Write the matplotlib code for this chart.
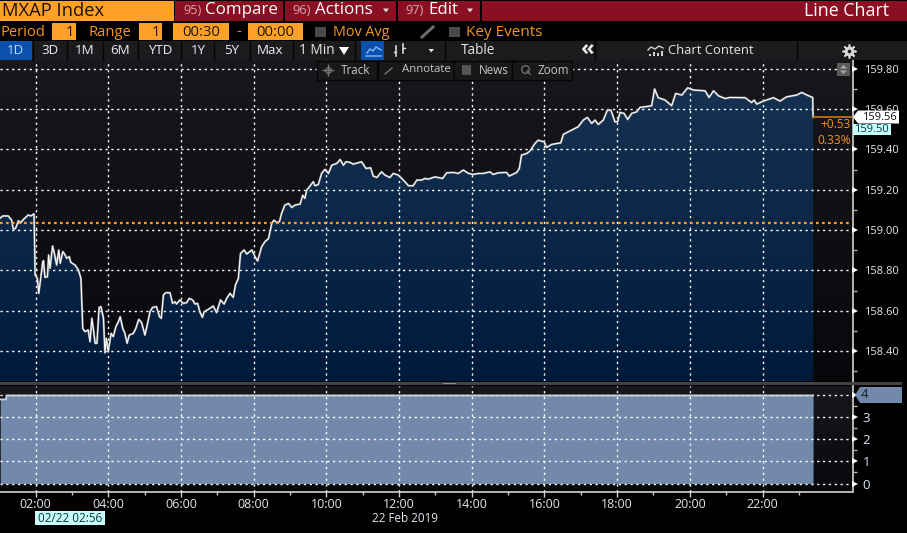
import numpy as np
import matplotlib
matplotlib.use("Agg")
import matplotlib.pyplot as plt
from matplotlib.patches import Rectangle, Polygon
from matplotlib.transforms import blended_transform_factory

plt.rcParams['font.family'] = ['Open Sans', 'DejaVu Sans']

# intraday index values (hours since midnight, index level)
hours = [
    1.02, 1.10, 1.25, 1.34, 1.39, 1.45, 1.53, 1.59, 1.67, 1.80, 1.87, 1.96, 1.99, 2.05, 2.09, 2.20,
    2.22, 2.26, 2.33, 2.36, 2.40, 2.47, 2.52, 2.58, 2.64, 2.68, 2.75, 2.79, 2.86, 2.93, 2.97, 3.09,
    3.18, 3.25, 3.30, 3.36, 3.45, 3.50, 3.55, 3.59, 3.64, 3.69, 3.75, 3.80, 3.87, 3.91, 3.95, 4.00,
    4.08, 4.14, 4.21, 4.28, 4.33, 4.40, 4.46, 4.52, 4.58, 4.69, 4.76, 4.84, 4.92, 5.01, 5.08, 5.15,
    5.22, 5.33, 5.41, 5.46, 5.52, 5.58, 5.70, 5.77, 5.84, 5.88, 5.97, 6.07, 6.16, 6.23, 6.32, 6.39,
    6.46, 6.52, 6.59, 6.64, 6.75, 6.89, 6.98, 7.09, 7.19, 7.26, 7.35, 7.44, 7.50, 7.58, 7.64, 7.74,
    7.81, 7.95, 8.04, 8.11, 8.22, 8.31, 8.41, 8.50, 8.56, 8.63, 8.71, 8.77, 8.86, 8.96, 9.05, 9.14,
    9.28, 9.35, 9.41, 9.46, 9.55, 9.64, 9.69, 9.78, 9.87, 9.96, 10.06, 10.15, 10.29, 10.38, 10.47,
    10.54, 10.65, 10.74, 10.88, 10.97, 11.09, 11.22, 11.29, 11.39, 11.52, 11.61, 11.75, 11.84, 11.98,
    12.12, 12.26, 12.39, 12.49, 12.62, 12.71, 12.81, 12.99, 13.20, 13.31, 13.49, 13.63, 13.77, 13.91,
    14.04, 14.18, 14.32, 14.50, 14.59, 14.73, 14.96, 15.03, 15.24, 15.31, 15.37, 15.51, 15.60, 15.74,
    15.83, 15.99, 16.06, 16.20, 16.45, 16.52, 16.75, 16.93, 17.07, 17.18, 17.30, 17.39, 17.48, 17.62,
    17.73, 17.83, 17.94, 18.01, 18.08, 18.19, 18.29, 18.40, 18.54, 18.63, 18.77, 18.95, 19.03, 19.13,
    19.32, 19.50, 19.61, 19.78, 19.94, 20.10, 20.42, 20.53, 20.65, 20.79, 20.97, 21.11, 21.52, 21.70,
    21.77, 21.84, 22.02, 22.30, 22.48, 22.66, 22.94, 23.08, 23.22, 23.38, 23.39,
]
prices = [
    159.058, 159.070, 159.070, 159.050, 159.005, 159.008, 159.046, 159.036, 159.053, 159.075, 159.070,
    159.080, 158.777, 158.760, 158.686, 158.843, 158.848, 158.765, 158.769, 158.876, 158.810, 158.921,
    158.884, 158.826, 158.901, 158.835, 158.893, 158.884, 158.860, 158.868, 158.840, 158.826, 158.802,
    158.760, 158.512, 158.496, 158.504, 158.446, 158.562, 158.512, 158.438, 158.438, 158.616, 158.620,
    158.562, 158.391, 158.463, 158.396, 158.487, 158.471, 158.520, 158.545, 158.570, 158.512, 158.487,
    158.438, 158.479, 158.487, 158.512, 158.557, 158.540, 158.479, 158.534, 158.595, 158.616, 158.620,
    158.570, 158.562, 158.678, 158.689, 158.689, 158.636, 158.644, 158.633, 158.653, 158.636, 158.640,
    158.661, 158.653, 158.633, 158.636, 158.595, 158.567, 158.595, 158.606, 158.623, 158.590, 158.653,
    158.633, 158.661, 158.686, 158.666, 158.727, 158.760, 158.884, 158.901, 158.881, 158.901, 158.868,
    158.846, 158.917, 158.942, 158.958, 159.033, 159.049, 159.038, 159.041, 159.083, 159.124, 159.132,
    159.112, 159.124, 159.129, 159.173, 159.157, 159.198, 159.218, 159.240, 159.220, 159.226, 159.281,
    159.301, 159.281, 159.322, 159.331, 159.350, 159.322, 159.339, 159.336, 159.327, 159.334, 159.339,
    159.306, 159.309, 159.268, 159.261, 159.289, 159.273, 159.261, 159.281, 159.273, 159.248, 159.220,
    159.220, 159.248, 159.248, 159.256, 159.253, 159.264, 159.256, 159.284, 159.286, 159.281, 159.298,
    159.281, 159.276, 159.281, 159.281, 159.289, 159.276, 159.284, 159.286, 159.268, 159.286, 159.306,
    159.372, 159.380, 159.392, 159.430, 159.446, 159.438, 159.410, 159.425, 159.433, 159.475, 159.496,
    159.513, 159.546, 159.559, 159.529, 159.546, 159.524, 159.546, 159.595, 159.595, 159.537, 159.537,
    159.584, 159.579, 159.549, 159.579, 159.587, 159.609, 159.612, 159.617, 159.700, 159.657, 159.645,
    159.617, 159.678, 159.670, 159.706, 159.695, 159.691, 159.658, 159.691, 159.666, 159.653, 159.658,
    159.657, 159.633, 159.645, 159.625, 159.640, 159.657, 159.640, 159.661, 159.670, 159.683, 159.670,
    159.658, 159.560,
]
prev_close = 159.035
last_price = 159.56

# lower panel, step series
count_hours = [1.03, 1.19, 1.20, 23.39]
count_values = [3.82, 3.82, 4, 4]

price_ticks = [158.40, 158.60, 158.80, 159.00, 159.20, 159.40, 159.60, 159.80]
price_minor = [158.30, 158.50, 158.70, 158.90, 159.10, 159.30, 159.50, 159.70]
count_ticks = [0, 1, 2, 3, 4]
count_minor = [0.5, 1.5, 2.5, 3.5]
hour_ticks = [2, 4, 6, 8, 10, 12, 14, 16, 18, 20, 22]
hour_minor = [3, 5, 7, 9, 11, 13, 15, 17, 19, 21, 23]
hour_labels = ['02:00', '04:00', '06:00', '08:00', '10:00', '12:00', '14:00', '16:00', '18:00', '20:00', '22:00']

W, H = 907, 533
ORANGE = '#ffa028'
TXT_ORANGE = '#f5931e'
RED = '#8a0f23'
BTN = '#1b1b1e'
LABEL = '#e8e8e8'
CYAN = '#c6fdfd'
SLATE = '#7289ab'
GRID = (1, 1, 1, 0.27)
DOTS = (0, (1.6, 2.6))
X0, X1 = 1.0234, 24.48


def px_axes(left, top, right, bottom):
    return fig.add_axes([left / W, 1 - bottom / H, (right - left) / W, (bottom - top) / H])


def dark_bg(ax, top, bottom):
    ax.set_facecolor(bottom)
    shade = np.linspace(0, 1, 64).reshape(-1, 1)
    c0, c1 = np.array(matplotlib.colors.to_rgb(top)), np.array(matplotlib.colors.to_rgb(bottom))
    ax.imshow(c0 + (c1 - c0) * shade[:, :, None], extent=[0, 1, 0, 1], transform=ax.transAxes,
              aspect='auto', zorder=0)


def right_ticks(ax, major, minor):
    ax.set_yticks(major)
    ax.set_yticks(minor, minor=True)
    ax.yaxis.tick_right()
    ax.tick_params(axis='y', which='major', length=0, pad=8, labelsize=8, labelcolor=LABEL)
    ax.tick_params(axis='y', which='minor', length=3, width=1, color='#b0b0b0', right=True)
    tr = blended_transform_factory(ax.transAxes, ax.transData)
    ax.plot([1.003] * len(major), major, ls='none', marker='>', ms=5, color='white', mew=0,
            transform=tr, clip_on=False, zorder=6)
    ax.spines['right'].set_color('#b4b4b4')
    ax.spines['right'].set_linewidth(1.4)
    for s in ('top', 'left', 'bottom'):
        ax.spines[s].set_visible(False)


fig = plt.figure(figsize=(W / 100, H / 100), dpi=100, facecolor='black')

# price panel
ax = px_axes(0, 60, 852.7, 381)
dark_bg(ax, '#17171c', '#08080c')
ax.set_xlim(X0, X1)
ax.set_ylim(158.251, 159.844)
shape = ax.fill_between(hours, prices, 158.251, color='none')
fade = np.linspace(0, 1, 128).reshape(-1, 1)
c_top, c_bot = np.array([0x17, 0x34, 0x54]) / 255, np.array([0x00, 0x1a, 0x3c]) / 255
img = ax.imshow(c_top + (c_bot - c_top) * fade[:, :, None], extent=[X0, X1, 158.251, 159.844],
                aspect='auto', zorder=1)
img.set_clip_path(shape.get_paths()[0], transform=ax.transData)
ax.set_xlim(X0, X1)
ax.set_ylim(158.251, 159.844)
ax.set_xticks(hour_ticks)
ax.tick_params(axis='x', length=0, labelbottom=False)
ax.grid(True, color=GRID, ls=DOTS, lw=1)
ax.set_axisbelow(False)
for g in ax.get_xgridlines() + ax.get_ygridlines():
    g.set_zorder(2)
ax.plot(hours, prices, color='#8c8f94', lw=1.5, zorder=3, solid_joinstyle='round')
ax.plot(hours, prices, color='white', lw=0.75, zorder=4)
ax.axhline(prev_close, color=ORANGE, lw=1.6, ls=(0, (1.2, 1.5)), zorder=5)
ax.plot([hours[-1], X1], [last_price, last_price], color='#c67a17', lw=1.2, zorder=5)
right_ticks(ax, price_ticks, price_minor)
ax.set_yticklabels([f'{v:.2f}' for v in price_ticks])

# lower panel, grid stays behind the filled area
ax2 = px_axes(0, 386, 852.7, 492)
dark_bg(ax2, '#17171c', '#08080c')
ax2.set_xlim(X0, X1)
ax2.set_ylim(-0.386, 4.43)
ax2.set_xticks(hour_ticks)
ax2.set_xticks(hour_minor, minor=True)
ax2.set_xticklabels(hour_labels)
ax2.tick_params(axis='x', which='major', length=3.5, width=1, color='#d0d0d0', pad=0.5,
                labelsize=9, labelcolor='#dfe6ee')
ax2.tick_params(axis='x', which='minor', length=2.5, width=1, color='#d0d0d0')
ax2.grid(True, color=GRID, ls=DOTS, lw=1)
ax2.set_axisbelow(False)
for g in ax2.get_xgridlines() + ax2.get_ygridlines():
    g.set_zorder(0.5)
ax2.fill_between(count_hours, count_values, 0, color=SLATE, lw=0, zorder=1)
ax2.plot(count_hours, count_values, color='#ccd3de', lw=1.3, zorder=3)
right_ticks(ax2, count_ticks, count_minor)
ax2.set_yticklabels(['0', '1', '2', '3', ''])
ax2.tick_params(axis='y', which='major', labelsize=9.5, labelcolor='#dbe6f5', pad=7)
ax2.spines['bottom'].set_visible(True)
ax2.spines['bottom'].set_color('#b4b4b4')
ax2.spines['bottom'].set_linewidth(1.4)

# toolbars and labels, drawn in screen pixels
ui = fig.add_axes([0, 0, 1, 1], zorder=10)
ui.set_xlim(0, W)
ui.set_ylim(H, 0)
ui.axis('off')
ui.patch.set_alpha(0)


def box(x0, y0, x1, y1, color, ec='none', lw=0, z=1):
    ui.add_patch(Rectangle((x0, y0), x1 - x0, y1 - y0, fc=color, ec=ec, lw=lw, zorder=z))


def label(x, y, s, color='white', size=10, ha='left', z=3, **kw):
    ui.text(x, y, s, color=color, fontsize=size, ha=ha, va='center', zorder=z, **kw)


# separator between panels
box(0, 382, 902, 384.6, '#434343')
box(443, 382.6, 456, 384, '#8a8a8a', z=2)

# first row
box(0, 1, 174, 21, ORANGE)
label(2, 10.5, 'MXAP Index', color='#1a1206', size=13.2)
box(175, 1, 283, 21, RED)
box(285, 1, 396, 21, RED)
box(398, 1, 480, 21, RED)
box(482, 1, 907, 21, RED)
label(183, 10.5, '95)', color='#d9a3ad', size=9.2)
label(205, 10.5, 'Compare', size=12.2)
label(292, 10.5, '96)', color='#d9a3ad', size=9.2)
label(315, 10.5, 'Actions', size=12.2)
label(405, 10.5, '97)', color='#d9a3ad', size=9.2)
label(428, 10.5, 'Edit', size=12.2)
for cx in (386, 470):
    ui.add_patch(Polygon([[cx - 3, 8.5], [cx + 3, 8.5], [cx, 12.5]], fc='#e8d8da', zorder=3))
label(889, 10.5, 'Line Chart', size=12.8, ha='right')

# second row
label(1, 32, 'Period', color=TXT_ORANGE, size=10.6)
box(52, 23, 76, 40, ORANGE)
label(74, 32, '1', color='#1a1206', size=10.6, ha='right')
label(88, 32, 'Range', color=TXT_ORANGE, size=10.6)
box(139, 23, 162, 40, ORANGE)
label(160, 32, '1', color='#1a1206', size=10.6, ha='right')
box(173, 23, 229, 40, ORANGE)
label(201, 32, '00:30', color='#1a1206', size=10.6, ha='center')
label(239, 32, '-', color=TXT_ORANGE, size=10.6, ha='center')
box(248, 23, 303, 40, ORANGE)
label(275.5, 32, '00:00', color='#1a1206', size=10.6, ha='center')
box(315, 27, 326, 37, '#4a4a4a')
label(333, 32, 'Mov Avg', color=TXT_ORANGE, size=10.4)
ui.plot([422, 433], [37, 27], color='#6a6a6a', lw=2.2, zorder=3)
box(449, 27, 460, 37, '#4a4a4a')
label(466, 32, 'Key Events', color=TXT_ORANGE, size=11)

# third row
box(0, 41, 907, 60, BTN)
box(0, 41, 32, 60, '#0a50ad')
for cx, s in zip([15, 50, 85, 120, 160, 198, 232, 270],
                 ['1D', '3D', '1M', '6M', 'YTD', '1Y', '5Y', 'Max']):
    label(cx, 50.5, s, size=9.6, ha='center', color='#e8eef6' if s != '1D' else '#c5d8f0')
for sx in (33, 67, 103, 138, 181, 214, 250, 293, 355, 445, 595, 797):
    ui.plot([sx, sx], [41, 60], color='#050505', lw=1, zorder=2)
label(299, 50.5, '1 Min', size=9.8, color='#e8e8e8')
ui.add_patch(Polygon([[339, 47], [349, 47], [344, 55]], fc='white', zorder=3))
box(361, 41, 384, 60, '#0a50ad')
ui.plot([367, 370, 373, 376, 381], [53, 49, 51, 47, 50], color='#79b4ef', lw=1.1, zorder=3)
ui.plot([366, 381], [56, 56], color='#79b4ef', lw=1.1, zorder=3)
ui.plot([396, 396], [46, 56], color='#d8d8d8', lw=1.2, zorder=3)
ui.plot([403, 403], [44, 53], color='#d8d8d8', lw=1.2, zorder=3)
ui.plot([394, 396], [52, 52], color='#d8d8d8', lw=1, zorder=3)
ui.plot([403, 405], [48, 48], color='#d8d8d8', lw=1, zorder=3)
ui.add_patch(Polygon([[428.5, 49], [434, 49], [431.2, 52.5]], fc='#e0e0e0', zorder=3))
label(478, 50.5, 'Table', size=9.8, ha='center', color='#e4e4e4')
label(587, 49, '«', size=16, ha='center', color='#e8e8e8', fontweight='bold')
label(668, 50.5, 'Chart Content', size=9.4, color='#e4e4e4')
ui.plot([648, 651, 655, 659, 663], [50, 47, 49, 46, 48], color='#d0d0d0', lw=1, zorder=3)
for bx, bh in zip([649, 653, 657, 661], [2, 4, 3, 5]):
    box(bx, 56 - bh, bx + 2, 56, '#d0d0d0', z=3)
ui.plot([848.5], [50.5], marker='o', ms=7, mfc='#d8d8d8', mew=0, zorder=3)
ui.plot([848.5], [50.5], marker='o', ms=2.6, mfc=BTN, mew=0, zorder=4)
ui.plot([848.5], [50.5], marker=(8, 2, 0), ms=10, mec='#d8d8d8', mew=1.2, zorder=3)

# chart toolbar
for x0, x1 in [(317, 377), (378, 454), (454, 512), (512, 572)]:
    box(x0, 61, x1, 80, '#18181b', ec='#050505', lw=1, z=3)
label(341, 70, 'Track', size=8.4, color='#c8c8c8', z=4)
label(402, 70, 'Annotate', size=8.2, color='#c8c8c8', z=4)
label(479, 70, 'News', size=8.4, color='#c8c8c8', z=4)
label(538, 70, 'Zoom', size=8.4, color='#c8c8c8', z=4)
ui.plot([328], [70], marker='+', ms=8, mec='#777777', mew=1, zorder=4)
ui.plot([328], [70], marker='o', ms=4, mfc='none', mec='#777777', mew=0.9, zorder=4)
ui.plot([385, 392], [74, 68], color='#777777', lw=1, zorder=4)
box(462, 65, 471, 75, '#555555', z=4)
ui.plot([525], [69], marker='o', ms=5.5, mfc='none', mec='#777777', mew=0.9, zorder=4)
ui.plot([527, 530], [71, 74], color='#777777', lw=1, zorder=4)
box(837, 63, 850, 76, '#5a5a5a', z=3)
ui.add_patch(Polygon([[840, 68.5], [847, 68.5], [843.5, 65]], fc='#a8a8a8', zorder=4))
ui.add_patch(Polygon([[840, 70.5], [847, 70.5], [843.5, 74]], fc='#a8a8a8', zorder=4))

# last price flags
label(851, 125, '+0.53', color=TXT_ORANGE, size=8.6, ha='right')
label(851, 140.5, '0.33%', color=TXT_ORANGE, size=8.6, ha='right')
ui.add_patch(Polygon([[853, 117], [858, 110.5], [899, 110.5], [899, 123.5], [858, 123.5]], fc='white', zorder=4))
label(862, 117, '159.56', color='#111111', size=8, z=5)
box(853, 123.5, 891, 134.5, CYAN, z=5)
label(854, 129, '159.50', color='#12323a', size=8, z=6)
ui.add_patch(Polygon([[855, 395], [860, 387], [902, 387], [902, 403], [860, 403]], fc=SLATE, zorder=4))
label(861, 395, '4', color='#101a2a', size=9.5, z=5)

# date strip
box(35, 511, 105, 525, CYAN)
label(70, 518, '02/22 02:56', color='#12323a', size=8.4, ha='center')
label(405, 518, '22 Feb 2019', color='#dfe6ee', size=8.4, ha='center')

fig.savefig('out.png', dpi=100, facecolor='black')
